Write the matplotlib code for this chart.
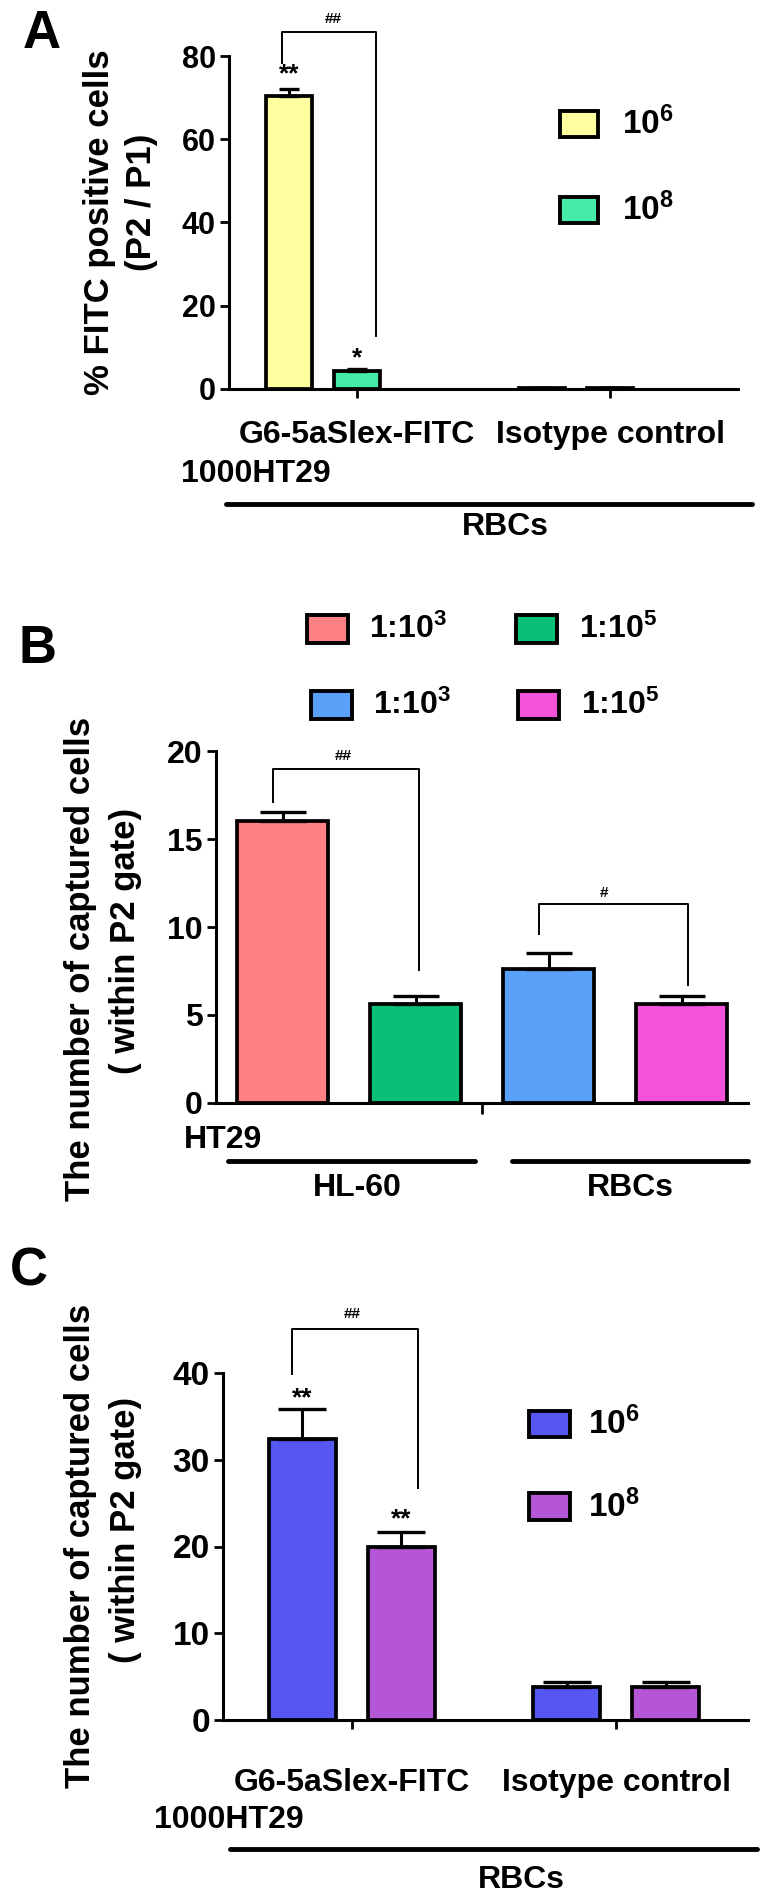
import matplotlib

matplotlib.use("Agg")
import matplotlib.pyplot as plt  # noqa: E402
from matplotlib.lines import Line2D  # noqa: E402
from matplotlib.patches import Rectangle  # noqa: E402

plt.rcParams["font.family"] = ["Liberation Sans", "DejaVu Sans"]
plt.rcParams["font.weight"] = "bold"
plt.rcParams["mathtext.fontset"] = "custom"
plt.rcParams["mathtext.rm"] = "Liberation Sans:bold"
plt.rcParams["mathtext.bf"] = "Liberation Sans:bold"
plt.rcParams["mathtext.default"] = "bf"

# ---- data -----------------------------------------------------------------
a_groups = ["G6-5aSlex-FITC", "Isotype control"]
a_series = ["10$^6$", "10$^8$"]
a_mean_e6 = [70.4, 0.3]
a_err_e6 = [1.7, 0.05]
a_mean_e8 = [4.4, 0.3]
a_err_e8 = [0.3, 0.05]
a_stars = ["**", "*"]

b_labels = ["1:10$^3$", "1:10$^5$", "1:10$^3$", "1:10$^5$"]
b_mean = [16.0, 5.63, 7.63, 5.63]
b_err = [0.55, 0.44, 0.92, 0.44]
b_groups = ["HL-60", "RBCs"]

c_groups = ["G6-5aSlex-FITC", "Isotype control"]
c_series = ["10$^6$", "10$^8$"]
c_mean_e6 = [32.4, 3.78]
c_err_e6 = [3.4, 0.58]
c_mean_e8 = [20.0, 3.78]
c_err_e8 = [1.7, 0.58]
c_stars = ["**", "**"]

A_COLORS = ["#FFFFA0", "#45EBA8"]
B_COLORS = ["#FF8080", "#08C078", "#5AA0F8", "#F552DC"]
C_COLORS = ["#5656F3", "#B556D6"]

W, H = 764, 1897
fig = plt.figure(figsize=(W / 100, H / 100), dpi=100)


def fx(px):
    return px / W


def fy(py):
    return 1 - py / H


def axes_px(left, top, right, bottom):
    ax = fig.add_axes([fx(left), fy(bottom), (right - left) / W, (bottom - top) / H])
    for s in ("top", "right"):
        ax.spines[s].set_visible(False)
    for s in ("left", "bottom"):
        ax.spines[s].set_linewidth(2.2)
    ax.tick_params(axis="both", width=2.0, length=6.5, direction="out")
    return ax


def ftext(x, y, s, size, ha="center", **kw):
    fig.text(fx(x), fy(y), s, fontsize=size, ha=ha, va="center", fontweight="bold", **kw)


def fline(x0, x1, y, lw=3.5):
    fig.add_artist(Line2D([fx(x0), fx(x1)], [fy(y), fy(y)], transform=fig.transFigure,
                          color="black", lw=lw, solid_capstyle="round"))


def fbox(x0, y0, x1, y1, color):
    fig.add_artist(Rectangle((fx(x0), fy(y1)), (x1 - x0) / W, (y1 - y0) / H,
                             transform=fig.transFigure, facecolor=color,
                             edgecolor="black", lw=2.8))


def bars(ax, xs, means, errs, colors, capsize):
    ax.bar(xs, means, width=0.68, color=colors, edgecolor="black", linewidth=2.7, zorder=2)
    ax.errorbar(xs, means, yerr=[[0] * len(errs), errs], fmt="none", ecolor="black",
                elinewidth=2.2, capsize=capsize, capthick=2.4, zorder=3)


def bracket(ax, x0, x1, top, left, right, label, lx, ly, size=11):
    ax.plot([x0, x0, x1, x1], [left, top, top, right], color="black", lw=1.4, clip_on=False)
    ax.text(lx, ly, label, ha="center", va="center", fontsize=size, clip_on=False)


# ---- panel A --------------------------------------------------------------
ax = axes_px(229, 56, 738, 389)
xa6 = [0, 3.72]
xa8 = [1, 4.72]
bars(ax, xa6, a_mean_e6, a_err_e6, A_COLORS[0], 7.5)
bars(ax, xa8, a_mean_e8, a_err_e8, A_COLORS[1], 7.5)
ax.set_xlim(-0.88, 6.6)
ax.set_ylim(0, 80)
ax.set_yticks([0, 20, 40, 60, 80])
ax.set_xticks(xa8, a_groups)
ax.tick_params(axis="y", labelsize=22, pad=3)
ax.tick_params(axis="x", labelsize=23, pad=16)
ax.text(xa6[0], 75.5, a_stars[0], ha="center", va="center", fontsize=19)
ax.text(xa8[0], 7.4, a_stars[1], ha="center", va="center", fontsize=19)
bracket(ax, -0.1, 1.28, 85.7, 78.4, 12.8, "##", 0.65, 88.8)
for (y0, y1), col, lab in zip([(111, 137), (197, 223)], A_COLORS, a_series):
    fbox(560, y0, 598, y1, col)
    ftext(622, (y0 + y1) / 2, lab, 24, ha="left")
ftext(100, 222, "% FITC positive cells", 25, rotation=90)
ftext(142, 202, "(P2 / P1)", 25, rotation=90)
ftext(42, 34, "A", 38)
ftext(181, 474, "1000HT29", 23, ha="left")
fline(226, 752, 504)
ftext(505, 527, "RBCs", 23)

# ---- panel B --------------------------------------------------------------
ax = axes_px(216, 751, 748, 1103)
xb = [0, 1, 2, 3]
bars(ax, xb, b_mean, b_err, B_COLORS, 16.5)
ax.set_xlim(-0.5, 3.5)
ax.set_ylim(0, 20)
ax.set_yticks([0, 5, 10, 15, 20])
ax.set_xticks([1.5], [""])
ax.tick_params(axis="y", labelsize=23, pad=3)
ax.tick_params(axis="x", length=8)
bracket(ax, -0.07, 1.03, 19.0, 17.1, 7.56, "##", 0.46, 19.7)
bracket(ax, 1.93, 3.05, 11.28, 9.6, 6.7, "#", 2.42, 11.95)
legend_b = [(307, 348, 369, 629), (516, 557, 579, 629), (311, 352, 373, 705), (518, 559, 581, 705)]
for (x0, x1, lx, yc), col, lab in zip(legend_b, B_COLORS, b_labels):
    fbox(x0, yc - 14, x1, yc + 14, col)
    ftext(lx, yc, lab, 23, ha="left")
ftext(81, 959, "The number of captured cells", 25, rotation=90)
ftext(125, 941, "( within P2 gate)", 25, rotation=90)
ftext(37, 649, "B", 38)
ftext(184, 1140, "HT29", 23, ha="left")
fline(228, 475, 1161)
fline(512, 748, 1161)
ftext(357, 1188, b_groups[0], 23)
ftext(630, 1188, b_groups[1], 23)

# ---- panel C --------------------------------------------------------------
ax = axes_px(223, 1373, 748, 1720)
xc6 = [0, 2.67]
xc8 = [1, 3.67]
bars(ax, xc6, c_mean_e6, c_err_e6, C_COLORS[0], 17)
bars(ax, xc8, c_mean_e8, c_err_e8, C_COLORS[1], 17)
ax.set_xlim(-0.8, 4.5)
ax.set_ylim(0, 40)
ax.set_yticks([0, 10, 20, 30, 40])
ax.set_xticks([0.5, 3.17], c_groups)
ax.tick_params(axis="y", labelsize=24, pad=3)
ax.tick_params(axis="x", labelsize=23, pad=28)
ax.text(xc6[0], 37.1, c_stars[0], ha="center", va="center", fontsize=19)
ax.text(xc8[0], 23.1, c_stars[1], ha="center", va="center", fontsize=19)
bracket(ax, -0.1, 1.17, 45.1, 39.85, 26.7, "##", 0.5, 46.8)
for (y0, y1), col, lab in zip([(1411, 1437), (1493, 1520)], C_COLORS, c_series):
    fbox(529, y0, 570, y1, col)
    ftext(588, (y0 + y1) / 2, lab, 24, ha="left")
ftext(81, 1546, "The number of captured cells", 25, rotation=90)
ftext(125, 1530, "( within P2 gate)", 25, rotation=90)
ftext(29, 1272, "C", 38)
ftext(154, 1820, "1000HT29", 23, ha="left")
fline(230, 757, 1849)
ftext(521, 1880, "RBCs", 23)

fig.savefig("out.png", dpi=100)
